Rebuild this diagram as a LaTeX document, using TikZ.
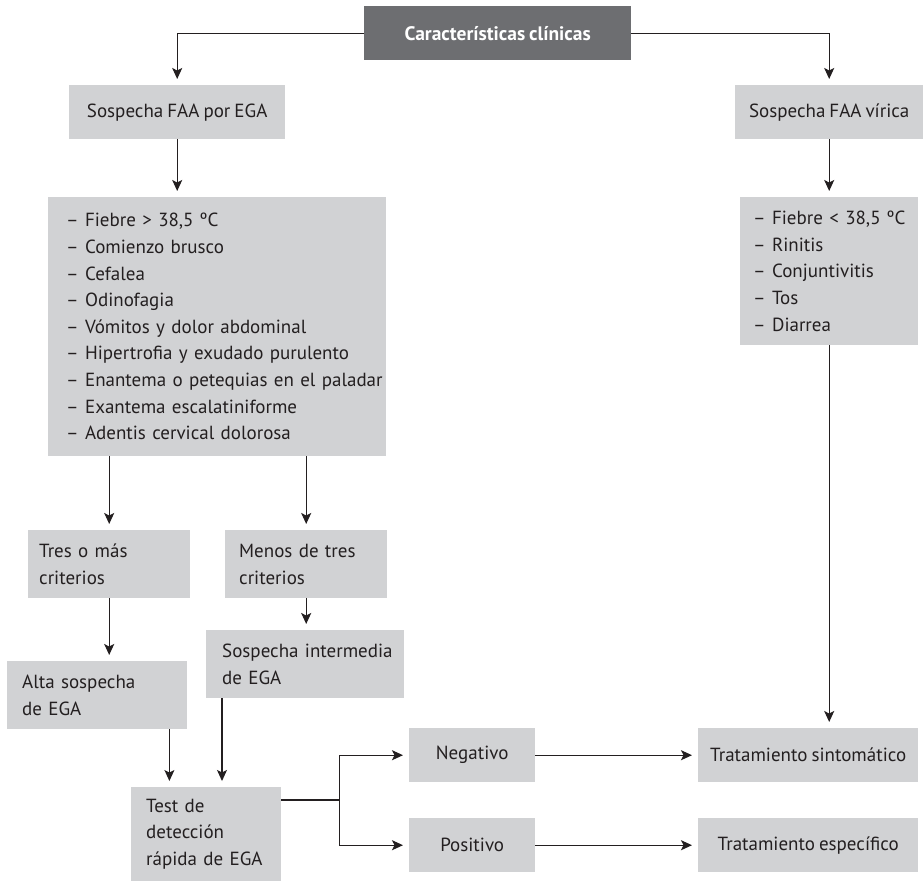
\documentclass[tikz,border=0pt]{standalone}
\usepackage{fontspec}
\setmainfont{PT Sans}[WordSpace=0.8]
\usetikzlibrary{arrows.meta}
\definecolor{boxgray}{HTML}{D1D2D4}
\definecolor{topgray}{HTML}{6D6E71}
\definecolor{ink}{HTML}{231F20}

\begin{document}
\begin{tikzpicture}[x=1pt,y=-1pt,font=\fontsize{19}{26.6}\selectfont,text=ink,
  box/.style={fill=boxgray,anchor=north west,inner ysep=0pt},
  conn/.style={draw=ink,line width=1.2pt},
  arr/.style={-{Stealth[length=11pt,width=10pt,inset=2.5pt]},shorten >=6pt}]
\useasboundingbox (0,0) rectangle (923,881);
\node[box,fill=topgray,text=white,font=\fontsize{19.5}{24}\selectfont\bfseries,minimum width=267,minimum height=54] (top) at (364,6) {Características clínicas};
\node[box,minimum width=216,minimum height=54] (ega) at (69,85) {Sospecha FAA por EGA};
\node[box,minimum width=188,minimum height=54] (vir) at (735,85) {Sospecha FAA vírica};
\node[box,text width=302,inner xsep=18,minimum height=259,align=left] (egalist) at (48,197)
  {– Fiebre > 38,5 ºC\\– Comienzo brusco\\– Cefalea\\– Odinofagia\\– Vómitos y dolor abdominal\\\mbox{– Hipertrofia y exudado purulento}\\\mbox{– Enantema o petequias en el paladar}\\– Exantema escalatiniforme\\– Adentis cervical dolorosa};
\node[box,text width=152,inner xsep=13,minimum height=148,align=left] (virlist) at (740,197)
  {\mbox{– Fiebre < 38,5 ºC}\\– Rinitis\\– Conjuntivitis\\– Tos\\– Diarrea};
\node[box,text width=140,inner xsep=11,minimum height=68,align=left] (tres) at (28,530) {Tres o más\\criterios};
\node[box,text width=134,inner xsep=14,minimum height=68,align=left] (menos) at (225,530) {\mbox{Menos de tres}\\criterios};
\node[box,text width=150,inner xsep=15,minimum height=68,align=left] (alta) at (7,661) {Alta sospecha\\de EGA};
\node[box,text width=166,inner xsep=16,minimum height=68,align=left] (inter) at (206,630) {\mbox{Sospecha intermedia}\\de EGA};
\node[box,text width=120,inner xsep=15,minimum height=94,align=left] (test) at (131,787) {Test de\\detección\\\mbox{rápida de EGA}};
\node[box,minimum width=126,minimum height=54] (neg) at (409,728) {Negativo};
\node[box,minimum width=126,minimum height=54] (pos) at (409,818) {Positivo};
\node[box,minimum width=220,minimum height=54] (sint) at (698,728) {Tratamiento sintomático};
\node[box,minimum width=220,minimum height=54] (esp) at (698,818) {Tratamiento específico};
\coordinate (altaout) at ([xshift=-18pt]alta.south east);
\coordinate (interout) at ([xshift=16pt]inter.south west);
\coordinate (testout) at ([yshift=-13pt]test.north east);
\coordinate (split) at ([xshift=58pt]testout);
\draw[conn,arr] (top.west) -| (ega.north);
\draw[conn,arr] (top.east) -| (vir.north);
\draw[conn,arr] (ega.south) -- (ega.south |- egalist.north);
\draw[conn,arr] (vir.south) -- (virlist.north);
\draw[conn,arr] (tres.north |- egalist.south) -- (tres.north);
\draw[conn,arr] (menos.north |- egalist.south) -- (menos.north);
\draw[conn,arr] (tres.south) -- (tres.south |- alta.north);
\draw[conn,arr] (menos.south) -- (menos.south |- inter.north);
\draw[conn,arr] (altaout) -- (altaout |- test.north);
\draw[conn,arr] (interout) -- (interout |- test.north);
\draw[conn] (testout) -- (split);
\draw[conn,arr] (split) |- (neg.west);
\draw[conn,arr] (split) |- (pos.west);
\draw[conn,arr] (neg.east) -- (sint.west);
\draw[conn,arr] (pos.east) -- (esp.west);
\draw[conn,arr] (virlist.south) -- (virlist.south |- sint.north);
\end{tikzpicture}
\end{document}
